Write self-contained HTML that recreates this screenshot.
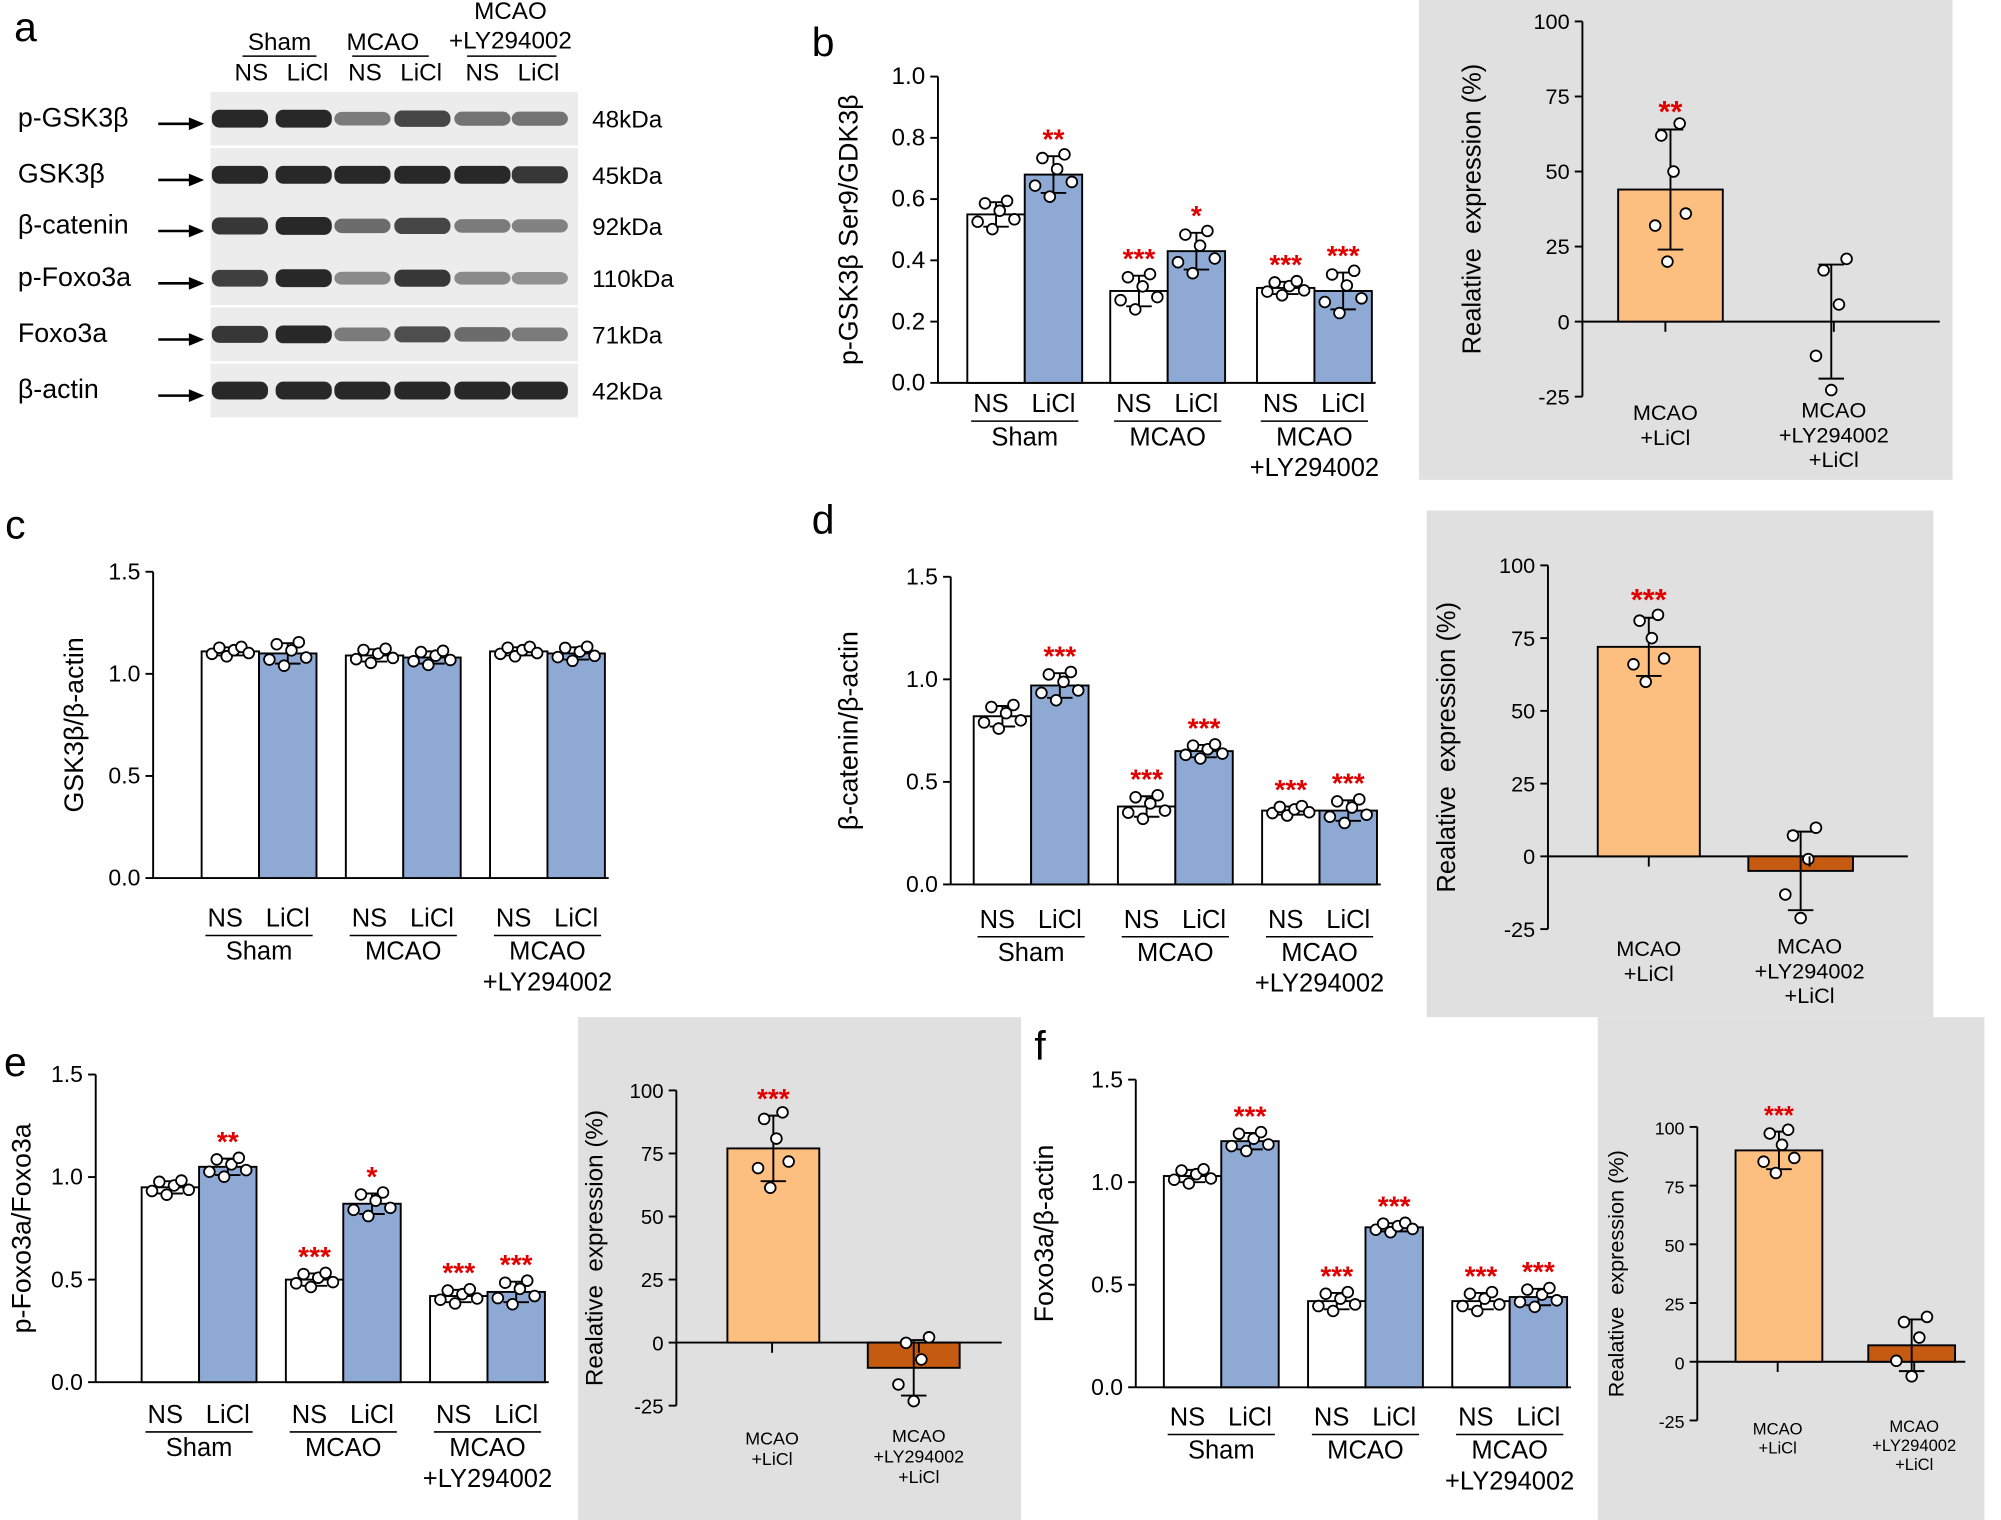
<!DOCTYPE html>
<html><head><meta charset="utf-8"><style>
html,body{margin:0;padding:0;background:#fff;}
svg{display:block;font-family:"Liberation Sans",Arial,sans-serif;}
</style></head><body>
<svg id="s" width="2001" height="1520" viewBox="0 0 1568 1191" preserveAspectRatio="none" xmlns="http://www.w3.org/2000/svg"></svg>
<script>
const s=document.getElementById('s');let h='';
function T(x,y,t,sz,anchor,fill,extra){h+=`<text x="${x}" y="${y}" font-size="${sz}" text-anchor="${anchor||'middle'}" fill="${fill||'#000'}" ${extra||''}>${t}</text>`;}
function L(x1,y1,x2,y2,w){h+=`<line x1="${x1}" y1="${y1}" x2="${x2}" y2="${y2}" stroke="#000" stroke-width="${w||1.5}"/>`;}
function R(x,y,w,hh,f,st){h+=`<rect x="${x}" y="${y}" width="${w}" height="${hh}" fill="${f}" ${st?'stroke="#000" stroke-width="1.5"':''}/>`;}
function C(x,y){h+=`<circle cx="${x}" cy="${y}" r="4.2" fill="#fff" stroke="#000" stroke-width="1.4"/>`;}
const jit=[-0.6,0.9,-1.2,0.3,1.1,-0.4];
function bar(ax,x0,x1,v,sd,fill,star,npts,narrow){
  const Y=val=>ax.z-val*ax.p;
  const top=Y(Math.max(v,0)),bot=Y(Math.min(v,0));
  R(x0,top,x1-x0,bot-top,fill,true);
  const cx=(x0+x1)/2;
  L(cx,Y(v-sd),cx,Y(v+sd));L(cx-10,Y(v+sd),cx+10,Y(v+sd));L(cx-10,Y(v-sd),cx+10,Y(v-sd));
  const n=npts||6;const w=narrow?12:(x1-x0)*0.32;
  for(let i=0;i<n;i++){C(cx-w+2*w*i/(n-1),Y(v+jit[i]*sd));}
  if(star)T(cx,Y(v+sd)-6,star,ax.ss||22,'middle','#e00000','font-weight="bold"');
}
function yaxis(ax,x,ticks,fmt,ytop,sz){
  L(x,ytop,x,ax.z-ticks[0]*ax.p,1.5);
  ticks.forEach(t=>{const y=ax.z-t*ax.p;L(x-6,y,x,y);T(x-10,y+6,fmt(t),sz||18,'end');});
}
function labels(bars,labY){
  const grp=[['Sham'],['MCAO'],['MCAO','+LY294002']];
  for(let g=0;g<3;g++){const b0=bars[2*g],b1=bars[2*g+1];const c=(b0[0]+b1[1])/2;
    T((b0[0]+b0[1])/2-4,labY,'NS',20);T((b1[0]+b1[1])/2,labY,'LiCl',20);
    L(c-42,labY+7,c+42,labY+7,1.2);
    T(c,labY+26,grp[g][0],20);if(grp[g][1])T(c,labY+50,grp[g][1],20);}
}
function main(ax,x,bars,labY,name,ylab,ylx){
  yaxis(ax,x,[0,0.5,1.0,1.5],t=>t.toFixed(1),ax.z-1.5*ax.p);
  L(x,ax.z,bars[5][1]+3,ax.z,1.5);
  bars.forEach((b,i)=>bar(ax,b[0],b[1],b[2],b[3],i%2?'#8eaad4':'#fff',b[4]));
  labels(bars,labY);
  T(ylx,(ax.z+ax.z-1.5*ax.p)/2,ylab,21,'middle','#000',`transform="rotate(-90 ${ylx} ${(ax.z+ax.z-1.5*ax.p)/2})"`);
}
function inset(rx,ry,rw,rh,ax,x,xr,b1,b2,c2,lab1x,lab2x,labY,sz,ylx,tsz){
  R(rx,ry,rw,rh,'#e0e0e0');
  yaxis(ax,x,[-25,0,25,50,75,100],t=>t,ax.z-100*ax.p,tsz);
  L(x,ax.z,xr,ax.z,1.5);
  bar(ax,b1[0],b1[1],b1[2],b1[3],'#fdbf80',b1[4],6,true);
  bar(ax,b2[0],b2[1],b2[2],b2[3],c2,null,5,true);
  L(lab1x,ax.z,lab1x,ax.z+8);L(lab2x,ax.z,lab2x,ax.z+8);
  T(lab1x,labY,'MCAO',sz);T(lab1x,labY+sz*1.15,'+LiCl',sz);
  T(lab2x,labY-2,'MCAO',sz);T(lab2x,labY-2+sz*1.15,'+LY294002',sz);T(lab2x,labY-2+sz*2.3,'+LiCl',sz);
  const my=ax.z-37.5*ax.p;
  T(ylx,my,'Realative&#160; expression (%)',tsz+3,'middle','#000',`transform="rotate(-90 ${ylx} ${my})"`);
}
T(20,32,'a',32,'middle');T(645,44,'b',32);T(12,422,'c',32);T(645,418,'d',32);T(12,843,'e',32);T(815,830,'f',32);
const rows=[['p-GSK3β',93,'48kDa',[1,1,.45,.8,.5,.5]],['GSK3β',137,'45kDa',[1,1,1,1,1,.9]],['β-catenin',177,'92kDa',[.9,1,.55,.8,.45,.4]],['p-Foxo3a',218,'110kDa',[.85,1,.35,.9,.35,.3]],['Foxo3a',262,'71kDa',[.9,1,.45,.75,.55,.45]],['β-actin',306,'42kDa',[1,1,1,1,1,1]]];
const lanes=[188,238,284,331,378,423];
rows.forEach(r=>{R(165,r[1]-21,288,42,'#ececec');
  r[3].forEach((k,i)=>{const c=Math.round(40+150*(1-k));h+=`<rect x="${lanes[i]-22}" y="${r[1]-4-3*k}" width="44" height="${8+6*k}" rx="6" fill="rgb(${c},${c},${c})"/>`;});
  T(14,r[1]+6,r[0],21,'start');T(464,r[1]+7,r[2],19,'start');
  L(124,r[1]+4,150,r[1]+4,2);h+=`<polygon points="160,${r[1]+4} 148,${r[1]-1} 148,${r[1]+9}"/>`;});
T(219,39,'Sham',19);L(190,44,248,44,1.2);T(197,63,'NS',19);T(241,63,'LiCl',19);
T(300,39,'MCAO',19);L(276,44,336,44,1.2);T(286,63,'NS',19);T(330,63,'LiCl',19);
T(400,15,'MCAO',19);T(400,38,'+LY294002',19);L(366,44,436,44,1.2);T(378,63,'NS',19);T(422,63,'LiCl',19);
const axb={z:300,p:240};
const bb=[[758,803,.55,.04],[803,848,.68,.06,'**'],[870,915,.30,.05,'***'],[915,960,.43,.06,'*'],[985,1030,.31,.02,'***'],[1030,1075,.30,.06,'***']];
yaxis(axb,735,[0,0.2,0.4,0.6,0.8,1.0],t=>t.toFixed(1),60,19);
L(735,300,1078,300,1.5);
bb.forEach((b,i)=>bar(axb,b[0],b[1],b[2],b[3],i%2?'#8eaad4':'#fff',b[4]));
labels(bb,323);
T(672,180,'p-GSK3β Ser9/GDK3β',21,'middle','#000','transform="rotate(-90 672 180)"');
inset(1112,0,418,376,{z:252,p:2.352,ss:24},1240,1520,[1268,1350,44,20,'**'],[1395,1475,0,19],'#c55a11',1305,1437,329,17,1160,17);
main({z:688,p:160},120,[[158,203,1.11,.02],[203,248,1.10,.05],[271,316,1.09,.03],[316,361,1.08,.03],[384,429,1.11,.02],[429,474,1.10,.03]],726,'','GSK3β/β-actin',65);
main({z:693,p:160.7},745,[[763,808,.82,.05],[808,853,.97,.06,'***'],[876,921,.38,.05,'***'],[921,966,.65,.03,'***'],[989,1034,.36,.02,'***'],[1034,1079,.36,.05,'***']],727,'','β-catenin/β-actin',672);
inset(1118,400,397,397,{z:671,p:2.28,ss:24},1213,1495,[1252,1332,72,10,'***'],[1370,1452,-5,13.5],'#c55a11',1292,1418,749,17,1140,17);
main({z:1083,p:160.7},75,[[111,156,.95,.03],[156,201,1.05,.04,'**'],[224,269,.50,.03,'***'],[269,314,.87,.05,'*'],[337,382,.42,.03,'***'],[382,427,.44,.05,'***']],1115,'','p-Foxo3a/Foxo3a',24);
inset(453,797,347,394,{z:1052,p:1.976,ss:22},530,785,[570,642,77,13,'***'],[680,752,-10,11],'#c55a11',605,720,1132,14,472,16);
main({z:1087,p:160.7},890,[[912,957,1.03,.03],[957,1002,1.20,.04,'***'],[1025,1070,.42,.04,'***'],[1070,1115,.78,.02,'***'],[1138,1183,.42,.04,'***'],[1183,1228,.44,.04,'***']],1117,'','Foxo3a/β-actin',825);
inset(1252,797,303,394,{z:1067,p:1.84,ss:20},1330,1540,[1360,1428,90,8,'***'],[1464,1532,7,11],'#c55a11',1393,1500,1124,13,1272,14);
s.innerHTML=h;
</script>
</body></html>
